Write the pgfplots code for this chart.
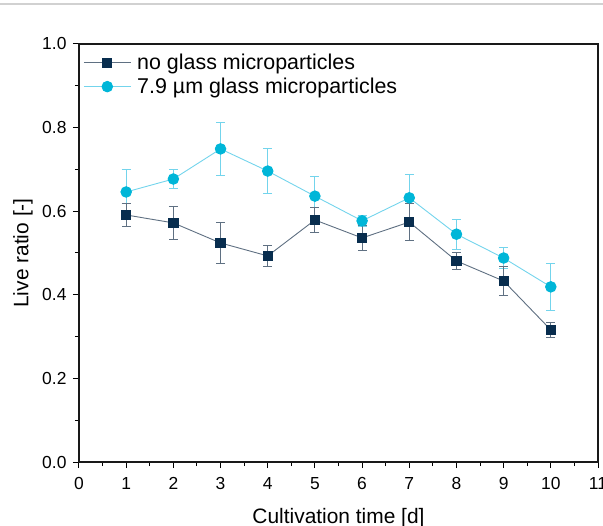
\documentclass[border=0pt]{standalone}
\usepackage{fontspec}
\setmainfont{Liberation Sans}
\usepackage{pgfplots}
\usepackage{pgfplotstable}
\pgfplotsset{compat=1.18}

\definecolor{navy}{RGB}{8,45,78}
\definecolor{navyline}{RGB}{95,112,130}
\definecolor{cyanm}{RGB}{0,182,216}
\definecolor{cyanline}{RGB}{115,212,236}
\definecolor{frame}{RGB}{25,25,25}

% day, mean live ratio, std
\pgfplotstableread{
x y e
1 0.591 0.028
2 0.572 0.040
3 0.524 0.048
4 0.493 0.025
5 0.579 0.031
6 0.536 0.030
7 0.574 0.045
8 0.481 0.020
9 0.433 0.035
10 0.316 0.018
}\noglass

\pgfplotstableread{
x y e
1 0.646 0.053
2 0.677 0.023
3 0.749 0.063
4 0.696 0.053
5 0.636 0.048
6 0.577 0.014
7 0.632 0.057
8 0.545 0.036
9 0.488 0.026
10 0.419 0.056
}\glass

\begin{document}
\begin{tikzpicture}
\begin{axis}[
  name=ax,
  scale only axis,
  width=519bp, height=418bp,
  xmin=0, xmax=11, ymin=0, ymax=1,
  xtick={0,...,11},
  ytick={0,0.2,0.4,0.6,0.8,1.0},
  minor x tick num=1, minor y tick num=1,
  tick align=outside, tick pos=left,
  major tick length=6bp, minor tick length=4bp,
  axis line style={frame, line width=1.4bp},
  every tick/.style={black, line width=1bp},
  yticklabel style={xshift=-3bp, /pgf/number format/.cd, fixed, fixed zerofill, precision=1},
  /pgf/number format/assume math mode=true,
  tick label style={font=\fontsize{17.5}{17.5}\selectfont},
  xticklabel style={yshift=-6bp},
  label style={font=\fontsize{21}{21}\selectfont},
  xlabel={Cultivation time [d]},
  ylabel={Live ratio [-]},
  xlabel style={at={(axis description cs:0.5,-0.146)}, anchor=base},
  ylabel style={at={(axis description cs:-0.108,0.5)}, anchor=center},
  legend style={draw=none, fill=none, at={(0.008,0.981)}, anchor=north west,
    inner sep=0pt, row sep=3bp, font=\fontsize{21.5}{21.5}\selectfont, cells={anchor=west}},
  legend image code/.code={
    \draw[mark repeat=2, mark phase=2, #1] plot coordinates {(0bp,0bp) (23.5bp,0bp) (47bp,0bp)};
    \path (51bp,0bp);
  },
  reverse legend,
]
\addplot[color=cyanline, line width=0.9bp, mark=*, mark size=5.3bp,
  mark options={draw=cyanm, fill=cyanm},
  error bars/.cd, y dir=both, y explicit,
  error bar style={color=cyanline, line width=0.9bp},
  error mark options={rotate=90, mark size=4.5bp, line width=0.9bp, color=cyanline}]
  table[x=x, y=y, y error=e] {\glass};
\addlegendentry{7.9 µm glass microparticles}
\addplot[color=navyline, line width=0.9bp, mark=square*, mark size=4.6bp,
  mark options={draw=navy, fill=navy},
  error bars/.cd, y dir=both, y explicit,
  error bar style={color=navyline, line width=0.9bp},
  error mark options={rotate=90, mark size=4.5bp, line width=0.9bp, color=navyline}]
  table[x=x, y=y, y error=e] {\noglass};
\addlegendentry{no glass microparticles}
\end{axis}
\draw[draw=frame, line width=1.6bp] (ax.north west) -- (ax.north east) -- (ax.south east);
\draw[black!18, line width=2bp] ([shift={(-79bp,39.5bp)}]ax.north west) -- ([shift={(5bp,39.5bp)}]ax.north east);
\pgfresetboundingbox
\path ([shift={(-79bp,-64bp)}]ax.south west) rectangle ([shift={(5bp,44bp)}]ax.north east);
\end{tikzpicture}
\end{document}
